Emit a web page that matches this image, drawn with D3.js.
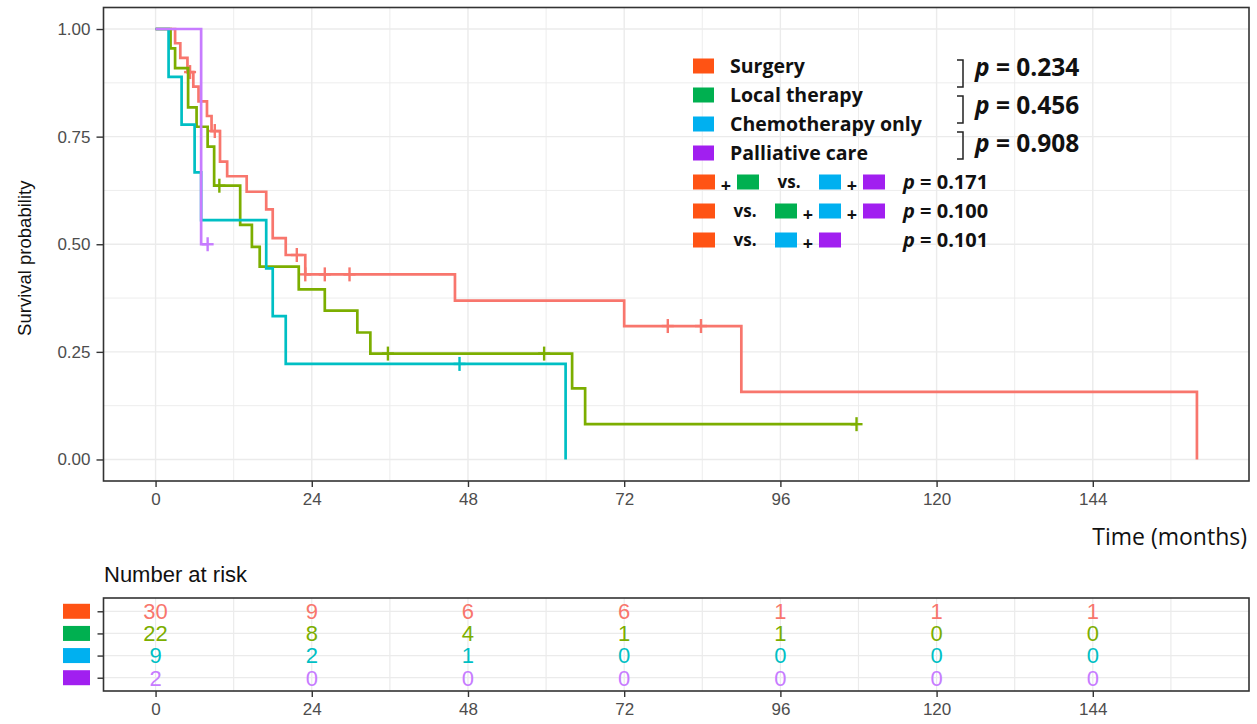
<!DOCTYPE html>
<html>
<head>
<meta charset="utf-8">
<script src="https://cdn.jsdelivr.net/npm/d3@7"></script>
<style>
  body { margin: 0; background: #fff; }
  svg { display: block; }
</style>
</head>
<body>
<svg id="chart" width="1257" height="724"></svg>
<script>
// groups, curve colours (ggplot hues) and the legend swatch colours
const groups = ["Surgery", "Local therapy", "Chemotherapy only", "Palliative care"];
const curveColors = ["#F8766D", "#7CAE00", "#00BFC4", "#C77CFF"];
const swatchColors = ["#FF5314", "#00B050", "#00B0F0", "#A11FF0"];

// Kaplan-Meier steps: time in months, survival after the step
const surgeryTime = [0, 3.0, 3.8, 4.9, 5.8, 6.6, 7.9, 8.6, 9.9, 11, 14, 17, 18, 20, 23, 46, 72, 90, 160];
const surgerySurv = [1, 0.967, 0.933, 0.900, 0.866, 0.832, 0.798, 0.763, 0.692, 0.658, 0.622, 0.581, 0.514, 0.475, 0.430, 0.369, 0.310, 0.157, 0];
const surgeryCensor = [5.3, 9.1, 21.7, 23, 26, 29.8, 78.7, 83.8];

const localTime = [0, 2.3, 3, 5, 6.3, 8, 9, 13, 14.8, 16, 22, 26, 31, 33, 64, 66];
const localSurv = [1, 0.955, 0.909, 0.818, 0.773, 0.727, 0.636, 0.545, 0.494, 0.448, 0.395, 0.346, 0.295, 0.246, 0.165, 0.082];
const localCensor = [9.8, 35.7, 59.7, 107.7];

const chemoTime = [0, 2, 4, 6, 7, 17, 18, 20, 63];
const chemoSurv = [1, 0.889, 0.778, 0.667, 0.556, 0.444, 0.333, 0.222, 0];
const chemoCensor = [46.7];

const palliativeTime = [0, 7];
const palliativeSurv = [1, 0.5];
const palliativeCensor = [8];

const timeTicks = [0, 24, 48, 72, 96, 120, 144];
const survTicks = [0, 0.25, 0.5, 0.75, 1];

// number at risk at each time tick
const riskSurgery = [30, 9, 6, 6, 1, 1, 1];
const riskLocal = [22, 8, 4, 1, 1, 0, 0];
const riskChemo = [9, 2, 1, 0, 0, 0, 0];
const riskPalliative = [2, 0, 0, 0, 0, 0, 0];

// pairwise log-rank p values (neighbouring groups) and pooled comparisons
const pairP = ["0.234", "0.456", "0.908"];
const comparisonRows = [
  [0, "+", 1, "vs.", 2, "+", 3],
  [0, "vs.", 1, "+", 2, "+", 3],
  [0, "vs.", 2, "+", 3],
];
const comparisonP = ["0.171", "0.100", "0.101"];

const curves = [
  { time: surgeryTime, surv: surgerySurv, censor: surgeryCensor },
  { time: localTime, surv: localSurv, censor: localCensor },
  { time: chemoTime, surv: chemoSurv, censor: chemoCensor },
  { time: palliativeTime, surv: palliativeSurv, censor: palliativeCensor },
];
const risk = [riskSurgery, riskLocal, riskChemo, riskPalliative];

const svg = d3.select("#chart");
svg.append("rect").attr("width", 1257).attr("height", 724).attr("fill", "#fff");

const pLeft = 103.5, pRight = 1249, pTop = 7.5, pBottom = 481;
const x = d3.scaleLinear().domain([-8, 168]).range([pLeft, pRight]);
const y = d3.scaleLinear().domain([-0.05, 1.05]).range([pBottom, pTop]);

const gridColor = "#EBEBEB";
const axisFont = "'Liberation Sans', Arial, sans-serif";

// grid
const minorX = d3.range(12, 168, 24);
const minorY = [0.125, 0.375, 0.625, 0.875];
const grid = svg.append("g");
grid.selectAll(".mx").data(minorX).enter().append("line")
  .attr("x1", d => x(d)).attr("x2", d => x(d)).attr("y1", pTop).attr("y2", pBottom)
  .attr("stroke", gridColor).attr("stroke-width", 0.9);
grid.selectAll(".Mx").data(timeTicks).enter().append("line")
  .attr("x1", d => x(d)).attr("x2", d => x(d)).attr("y1", pTop).attr("y2", pBottom)
  .attr("stroke", gridColor).attr("stroke-width", 1.4);
grid.selectAll(".my").data(minorY).enter().append("line")
  .attr("y1", d => y(d)).attr("y2", d => y(d)).attr("x1", pLeft).attr("x2", pRight)
  .attr("stroke", gridColor).attr("stroke-width", 0.9);
grid.selectAll(".My").data(survTicks).enter().append("line")
  .attr("y1", d => y(d)).attr("y2", d => y(d)).attr("x1", pLeft).attr("x2", pRight)
  .attr("stroke", gridColor).attr("stroke-width", 1.4);

// curves
const line = d3.line().curve(d3.curveStepAfter).x(d => x(d[0])).y(d => y(d[1]));
function stepValue(c, t) {
  let v = c.surv[0];
  c.time.forEach((tt, i) => { if (tt <= t) v = c.surv[i]; });
  return v;
}
curves.forEach((c, gi) => {
  const pts = c.time.map((t, i) => [t, c.surv[i]]);
  const end = Math.max(c.time[c.time.length - 1], d3.max(c.censor));
  if (end > c.time[c.time.length - 1]) pts.push([end, c.surv[c.surv.length - 1]]);
  svg.append("path").datum(pts)
    .attr("fill", "none").attr("stroke", curveColors[gi]).attr("stroke-width", 2.7)
    .attr("d", line);
  const cg = svg.append("g").attr("stroke", curveColors[gi]).attr("stroke-width", 2.4);
  c.censor.forEach(t => {
    const cx = x(t), cy = y(stepValue(c, t));
    cg.append("line").attr("x1", cx - 6).attr("x2", cx + 6).attr("y1", cy).attr("y2", cy);
    cg.append("line").attr("x1", cx).attr("x2", cx).attr("y1", cy - 7).attr("y2", cy + 7);
  });
});

// panel border
svg.append("rect").attr("x", pLeft).attr("y", pTop).attr("width", pRight - pLeft).attr("height", pBottom - pTop)
  .attr("fill", "none").attr("stroke", "#333").attr("stroke-width", 1.6);

// axes
function styleAxis(g) {
  g.select(".domain").remove();
  g.selectAll(".tick line").attr("stroke", "#333").attr("stroke-width", 1.4);
  g.selectAll(".tick text").attr("fill", "#4D4D4D").attr("font-size", 17).attr("font-family", axisFont);
}
svg.append("g").attr("transform", `translate(${pLeft},0)`)
  .call(d3.axisLeft(y).tickValues(survTicks).tickFormat(d3.format(".2f")).tickSize(7).tickPadding(6))
  .call(styleAxis);
svg.append("g").attr("transform", `translate(0,${pBottom})`)
  .call(d3.axisBottom(x).tickValues(timeTicks).tickFormat(d3.format("d")).tickSize(6).tickPadding(6))
  .call(styleAxis);

svg.append("text")
  .attr("transform", `translate(31,${(pTop + pBottom) / 2 + 14}) rotate(-90)`)
  .attr("text-anchor", "middle").attr("font-family", axisFont).attr("font-size", 18.5)
  .attr("fill", "#111").text("Survival probability");

svg.append("text").attr("x", 1247).attr("y", 545).attr("text-anchor", "end")
  .attr("font-family", "'Open Sans', sans-serif").attr("font-size", 23).attr("fill", "#111")
  .text("Time (months)");

// legend
const legFont = "'Open Sans', sans-serif";
const legX = 693, rowY0 = 66, rowStep = 29;
const leg = svg.append("g");
groups.forEach((g, i) => {
  const cy = rowY0 + i * rowStep;
  leg.append("rect").attr("x", legX).attr("y", cy - 7.5).attr("width", 21).attr("height", 15)
    .attr("fill", swatchColors[i]);
  leg.append("text").attr("x", 730).attr("y", cy + 6.5)
    .attr("font-family", legFont).attr("font-weight", 700).attr("font-size", 19.5)
    .attr("fill", "#111").text(g);
});

function pText(sel, value) {
  sel.append("tspan").attr("font-style", "italic").text("p");
  sel.append("tspan").text(" = " + value);
}

// brackets and pairwise p values
pairP.forEach((p, i) => {
  const y1 = 60 + i * 36, y2 = y1 + 27;
  leg.append("path")
    .attr("d", `M957,${y1} H963 V${y2} H957`)
    .attr("fill", "none").attr("stroke", "#222").attr("stroke-width", 1.5);
  leg.append("text").attr("x", 975).attr("y", 76 + i * 38)
    .attr("font-family", legFont).attr("font-weight", 700).attr("font-size", 24.5)
    .attr("fill", "#111").call(pText, p);
});

// pooled comparisons
comparisonRows.forEach((row, ri) => {
  const cy = rowY0 + (groups.length + ri) * rowStep;
  let cursor = legX;
  row.forEach(tok => {
    if (typeof tok === "number") {
      leg.append("rect").attr("x", cursor).attr("y", cy - 7.5).attr("width", 22).attr("height", 15)
        .attr("fill", swatchColors[tok]);
      cursor += 22;
    } else if (tok === "+") {
      leg.append("text").attr("x", cursor + 11).attr("y", cy + 10).attr("text-anchor", "middle")
        .attr("font-family", legFont).attr("font-weight", 700).attr("font-size", 18)
        .attr("fill", "#111").text("+");
      cursor += 22;
    } else {
      leg.append("text").attr("x", cursor + 30).attr("y", cy + 6).attr("text-anchor", "middle")
        .attr("font-family", legFont).attr("font-weight", 700).attr("font-size", 17)
        .attr("fill", "#111").text(tok);
      cursor += 60;
    }
  });
  leg.append("text").attr("x", 903).attr("y", cy + 7)
    .attr("font-family", legFont).attr("font-weight", 700).attr("font-size", 20)
    .attr("fill", "#111").call(pText, comparisonP[ri]);
});

// risk table
svg.append("text").attr("x", 104).attr("y", 582)
  .attr("font-family", axisFont).attr("font-size", 22).attr("fill", "#111")
  .text("Number at risk");

const rTop = 598, rBottom = 691;
const ry = d3.scalePoint().domain(d3.range(groups.length)).range([rTop, rBottom]).padding(0.6);
const rt = svg.append("g");
rt.selectAll(".gx").data(minorX.concat(timeTicks)).enter().append("line")
  .attr("x1", d => x(d)).attr("x2", d => x(d)).attr("y1", rTop).attr("y2", rBottom)
  .attr("stroke", gridColor).attr("stroke-width", 1.2);
rt.selectAll(".gy").data(d3.range(groups.length)).enter().append("line")
  .attr("y1", d => ry(d)).attr("y2", d => ry(d)).attr("x1", pLeft).attr("x2", pRight)
  .attr("stroke", gridColor).attr("stroke-width", 1.2);

risk.forEach((vals, gi) => {
  rt.selectAll(null).data(vals).enter().append("text")
    .attr("x", (d, i) => x(timeTicks[i])).attr("y", ry(gi))
    .attr("dy", "0.36em").attr("text-anchor", "middle")
    .attr("font-family", axisFont).attr("font-size", 22)
    .attr("fill", curveColors[gi]).text(d => d);
  rt.append("rect").attr("x", 63).attr("y", ry(gi) - 7.5).attr("width", 27).attr("height", 15)
    .attr("fill", swatchColors[gi]);
});

rt.append("rect").attr("x", pLeft).attr("y", rTop).attr("width", pRight - pLeft).attr("height", rBottom - rTop)
  .attr("fill", "none").attr("stroke", "#333").attr("stroke-width", 1.6);

svg.append("g").attr("transform", `translate(${pLeft},0)`)
  .call(d3.axisLeft(ry).tickFormat("").tickSize(6))
  .call(styleAxis);
svg.append("g").attr("transform", `translate(0,${rBottom})`)
  .call(d3.axisBottom(x).tickValues(timeTicks).tickFormat(d3.format("d")).tickSize(6).tickPadding(6))
  .call(styleAxis);
</script>
</body>
</html>
